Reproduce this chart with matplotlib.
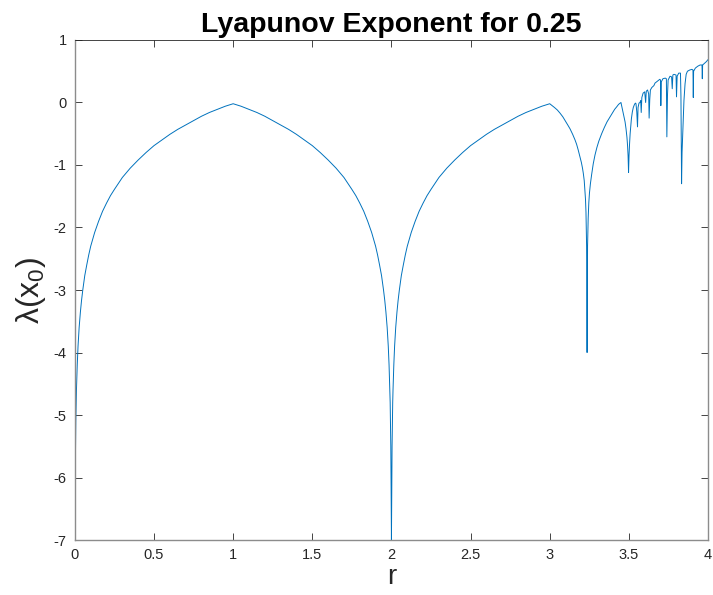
import numpy as np
import matplotlib
matplotlib.use("Agg")
from matplotlib import pyplot as plt

# values
r_low = [0.0005, 0.001, 0.002, 0.003, 0.004, 0.006, 0.008, 0.01, 0.015, 0.02,
         0.027, 0.035, 0.042, 0.05, 0.0625, 0.075, 0.0875, 0.1, 0.125, 0.15,
         0.175, 0.2, 0.225, 0.25, 0.3, 0.35, 0.4, 0.45, 0.5, 0.55, 0.6, 0.65,
         0.7, 0.75, 0.8, 0.85, 0.9, 0.95, 1.0]
lam_low = [-7.0, -6.9, -6.2, -5.8, -5.5, -5.1, -4.8, -4.6, -4.2, -3.9,
           -3.6, -3.35, -3.17, -3.0, -2.77, -2.6, -2.44, -2.3, -2.08, -1.9,
           -1.74, -1.61, -1.49, -1.39, -1.2, -1.05, -0.92, -0.8, -0.69, -0.6, -0.51, -0.43,
           -0.36, -0.29, -0.22, -0.16, -0.11, -0.06, -0.02]

r_mid = [1.05, 1.1, 1.15, 1.2, 1.25, 1.3, 1.35, 1.4, 1.45, 1.5, 1.55, 1.6, 1.65,
         1.7, 1.75, 1.775, 1.8, 1.825, 1.85, 1.875, 1.9, 1.9125, 1.925, 1.9375,
         1.95, 1.958, 1.965, 1.973, 1.98, 1.985, 1.99, 1.992, 1.994, 1.996,
         1.997, 1.998, 2.0,
         2.002, 2.003, 2.004, 2.006, 2.008, 2.01, 2.015, 2.02, 2.027, 2.035,
         2.042, 2.05, 2.0625, 2.075, 2.0875, 2.1, 2.125, 2.15, 2.175, 2.2,
         2.225, 2.25, 2.3, 2.35, 2.4, 2.45, 2.5, 2.55, 2.6, 2.65, 2.7, 2.75,
         2.8, 2.85, 2.9, 2.95, 3.0]
lam_mid = [-0.06, -0.11, -0.16, -0.22, -0.29, -0.36, -0.43, -0.51, -0.6, -0.69,
           -0.8, -0.92, -1.05, -1.2, -1.39, -1.49, -1.61, -1.74, -1.9, -2.08,
           -2.3, -2.44, -2.6, -2.77, -3.0, -3.17, -3.35, -3.6, -3.9, -4.2,
           -4.6, -4.8, -5.1, -5.5, -5.8, -6.2, -7.0,
           -6.2, -5.8, -5.5, -5.1, -4.8, -4.6, -4.2, -3.9, -3.6, -3.35,
           -3.17, -3.0, -2.77, -2.6, -2.44, -2.3, -2.08, -1.9, -1.74, -1.61,
           -1.49, -1.39, -1.2, -1.05, -0.92, -0.8, -0.69, -0.6, -0.51, -0.43,
           -0.36, -0.29, -0.22, -0.16, -0.11, -0.06, -0.02]

r_per = [3.015, 3.03, 3.048, 3.065, 3.083, 3.1, 3.114, 3.128, 3.145, 3.16,
         3.17, 3.18, 3.19, 3.2, 3.207, 3.212, 3.218, 3.222, 3.226, 3.229,
         3.233, 3.236, 3.239, 3.243, 3.247, 3.251, 3.257, 3.265, 3.275, 3.286,
         3.298, 3.31, 3.328, 3.345, 3.362, 3.381, 3.395, 3.41, 3.423, 3.435,
         3.445, 3.45,
         3.456, 3.462, 3.469, 3.476, 3.482, 3.488, 3.492, 3.495, 3.498, 3.501,
         3.504, 3.508, 3.512, 3.516, 3.522, 3.528, 3.534, 3.538, 3.542, 3.545]
lam_per = [-0.05, -0.08, -0.12, -0.17, -0.23, -0.3, -0.36, -0.42, -0.51, -0.6,
           -0.67, -0.76, -0.86, -0.96, -1.05, -1.13, -1.25, -1.4, -1.55, -1.75,
           -2.3, -4.0, -2.3, -1.85, -1.6, -1.45, -1.3, -1.15, -0.98, -0.84,
           -0.72, -0.62, -0.5, -0.4, -0.31, -0.23, -0.17, -0.11, -0.07, -0.03,
           -0.01, 0.0,
           -0.07, -0.14, -0.22, -0.31, -0.42, -0.56, -0.7, -0.85, -1.12, -0.85,
           -0.68, -0.5, -0.37, -0.26, -0.15, -0.08, -0.04, -0.02, -0.01, -0.02]

r_chaos = [3.55, 3.5546, 3.558, 3.564, 3.570, 3.575, 3.578, 3.582, 3.590, 3.600,
           3.606, 3.610, 3.618, 3.625, 3.628, 3.632, 3.636, 3.645, 3.658, 3.665,
           3.68, 3.695, 3.700, 3.702, 3.705, 3.715, 3.73, 3.737, 3.740, 3.744,
           3.748, 3.76, 3.770, 3.774, 3.778, 3.785, 3.798, 3.801, 3.805, 3.815,
           3.826, 3.829, 3.831, 3.833, 3.836, 3.843, 3.848, 3.855, 3.862, 3.87,
           3.885, 3.898, 3.905, 3.907, 3.909, 3.92, 3.935, 3.95, 3.962, 3.964,
           3.966, 3.975, 3.988, 4.0]
lam_chaos = [-0.15, -0.39, -0.08, -0.01, 0.0, 0.03, -0.16, 0.08, 0.15, 0.17,
             0.0, 0.18, 0.2, 0.14, -0.25, 0.05, 0.2, 0.24, 0.27, 0.31,
             0.34, 0.37, 0.36, -0.05, 0.33, 0.38, 0.39, 0.38, -0.55, 0.12,
             0.36, 0.42, 0.41, 0.22, 0.44, 0.45, 0.44, 0.09, 0.42, 0.47,
             0.47, 0.1, -0.5, -1.3, -0.8, -0.3, 0.03, 0.3, 0.45, 0.5,
             0.52, 0.53, 0.52, 0.08, 0.5, 0.55, 0.58, 0.6, 0.6, 0.38,
             0.6, 0.62, 0.65, 0.685]

r = np.array(r_low + r_mid + r_per + r_chaos)
lam = np.array(lam_low + lam_mid + lam_per + lam_chaos)

plt.rcParams['font.family'] = ['Liberation Sans', 'DejaVu Sans']
plt.rcParams['axes.unicode_minus'] = False
plt.rcParams['mathtext.fontset'] = 'custom'
plt.rcParams['mathtext.rm'] = 'Liberation Sans'
plt.rcParams['mathtext.it'] = 'Liberation Sans'

fig = plt.figure(figsize=(7.13, 5.95), dpi=100)
ax = fig.add_axes([0.105, 0.0924, 0.888, 0.8404])

ax.plot(r, lam, color='#0072BD', linewidth=0.7)

ax.set_xlim(0, 4)
ax.set_ylim(-7, 1)
ax.set_xticks(np.arange(0, 4.01, 0.5))
ax.set_xticklabels(['0', '0.5', '1', '1.5', '2', '2.5', '3', '3.5', '4'])
ax.set_yticks(range(-7, 2))

ax.tick_params(direction='in', top=True, right=True, length=5, width=0.6,
               labelsize=10.5, colors='#262626', pad=6)
for side in ['left', 'bottom', 'right']:
    ax.spines[side].set_color('#8c8c8c')
    ax.spines[side].set_linewidth(1.0)
ax.spines['top'].set_color('#262626')
ax.spines['top'].set_linewidth(0.6)

ax.set_title('Lyapunov Exponent for 0.25', fontsize=20.5, fontweight='bold', pad=6)
ax.set_xlabel('r', fontsize=20, color='#262626', labelpad=1)
ax.set_ylabel('λ(x$_0$)', fontsize=23, color='#262626', labelpad=4)

fig.savefig('out.png', dpi=100)
